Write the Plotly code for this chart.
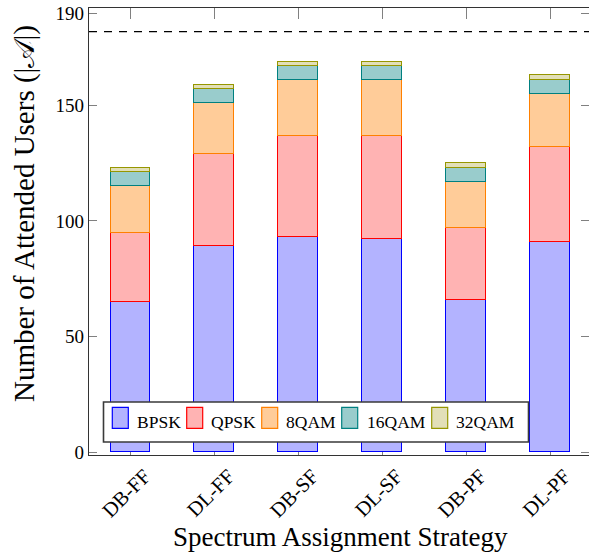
import plotly.graph_objects as go

categories = ["DB-FF", "DL-FF", "DB-SF", "DL-SF", "DB-PF", "DL-PF"]
series_names = ["BPSK", "QPSK", "8QAM", "16QAM", "32QAM"]
bpsk = [65, 89, 93, 92, 66, 91]
qpsk = [30, 40, 44, 45, 31, 41]
qam8 = [20, 22, 24, 24, 20, 23]
qam16 = [6, 6, 6, 6, 6, 6]
qam32 = [2, 2, 2, 2, 2, 2]
max_users = 182
y_ticks = [0, 50, 100, 150, 190]

series_values = [bpsk, qpsk, qam8, qam16, qam32]
fills = ["rgb(179,179,255)", "rgb(255,179,179)", "rgb(255,204,153)",
         "rgb(153,204,204)", "rgb(226,223,184)"]
edges = ["rgb(0,0,255)", "rgb(255,0,0)", "rgb(255,128,0)",
         "rgb(0,128,128)", "rgb(150,150,0)"]

FONT = "Liberation Serif, Times New Roman, serif"
W, H = 589, 552
L, R, T, B = 89, 0, 8, 97
pw, ph = W - L - R, H - T - B

def px(x):
    return (x - L) / pw

def py(y):
    return (H - B - y) / ph

fig = go.Figure()
idx = list(range(len(categories)))
for name, vals, fc, ec in zip(series_names, series_values, fills, edges):
    fig.add_trace(go.Bar(
        x=idx, y=vals, name=name, width=0.476,
        marker=dict(color=fc, line=dict(color=ec, width=1.4)),
        showlegend=False,
    ))

fig.add_trace(go.Scatter(x=[None], y=[None], yaxis="y2", showlegend=False,
                         hoverinfo="skip"))

fig.add_shape(type="line", xref="paper", yref="y", x0=0, x1=1,
              y0=max_users, y1=max_users,
              line=dict(color="black", width=1.2, dash="8px,7px"))

# legend box
fig.add_shape(type="rect", xref="paper", yref="paper",
              x0=px(103.5), x1=px(528.5), y0=py(442), y1=py(402),
              line=dict(color="#3a3a3a", width=1.6), fillcolor="white",
              layer="above")
sw_x = [112.3, 186.7, 261.7, 341.7, 431.7]
tx_x = [135, 208.5, 284, 365, 453.5]
for name, fc, ec, sx, tx in zip(series_names, fills, edges, sw_x, tx_x):
    fig.add_shape(type="rect", xref="paper", yref="paper",
                  x0=px(sx), x1=px(sx + 16), y0=py(428.3), y1=py(407.3),
                  line=dict(color=ec, width=1.2), fillcolor=fc, layer="above")
    fig.add_annotation(x=px(tx), y=py(421.5), xref="paper", yref="paper",
                       text=name, showarrow=False, xanchor="left",
                       yanchor="middle",
                       font=dict(family=FONT, size=17.5, color="black"))

fig.add_annotation(x=px(340), y=py(537), xref="paper", yref="paper",
                   text="Spectrum Assignment Strategy", showarrow=False,
                   xanchor="center", yanchor="middle",
                   font=dict(family=FONT, size=27, color="black"))
fig.add_annotation(x=px(24), y=py(214), xref="paper", yref="paper",
                   text="Number of Attended Users (|<span style='font-family:DejaVu Sans'>𝒜</span>|)",
                   showarrow=False,
                   textangle=-90, xanchor="center", yanchor="middle",
                   font=dict(family=FONT, size=29, color="black"))

fig.update_layout(
    width=W, height=H,
    margin=dict(l=L, r=R, t=T, b=B, pad=0),
    plot_bgcolor="white", paper_bgcolor="white",
    barmode="stack", bargap=0,
    font=dict(family=FONT, size=19, color="black"),
    xaxis=dict(
        range=[-0.494, 5.46], tickvals=idx, ticktext=categories,
        tickangle=-45, ticks="inside", ticklen=11, tickcolor="gray",
        tickwidth=1, showline=True, linecolor="#333", linewidth=1.3,
        mirror="ticks", showgrid=False, zeroline=False,
        layer="below traces", tickfont=dict(family=FONT, size=20.5),
        ticklabelshift=14,
    ),
    yaxis=dict(
        range=[-1.3, 192.2], tickvals=y_ticks, ticks="inside", ticklen=8,
        tickcolor="gray", tickwidth=1, showline=True, linecolor="#333",
        linewidth=1.3, showgrid=False, zeroline=False,
        tickfont=dict(family=FONT, size=19),
    ),
    yaxis2=dict(
        overlaying="y", side="right", range=[-1.3, 192.2], tickvals=y_ticks,
        ticks="inside", ticklen=8, tickcolor="gray", tickwidth=1,
        showticklabels=False, showline=False, showgrid=False, zeroline=False,
    ),
)

fig.write_html(
    "out.html",
    config={"displayModeBar": False},
    post_script="document.body.style.margin='0';document.body.style.overflow='hidden';",
)
